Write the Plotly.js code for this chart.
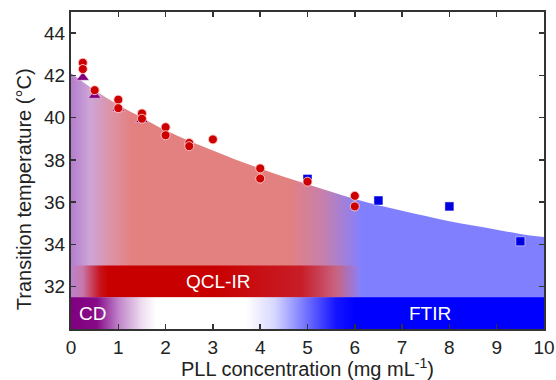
<!DOCTYPE html>
<html>
<head>
<meta charset="utf-8">
<script src="https://cdn.plot.ly/plotly-3.0.1.min.js"></script>
<style>html,body{margin:0;padding:0;background:#fff;}#chart{width:556px;height:380px;}</style>
</head>
<body>
<div id="chart"></div>
<script>
// Fitted curve (edge of shaded area)
const curveX = [0, 0.5, 1, 1.5, 2, 2.5, 3, 3.5, 4, 4.5, 5, 5.5, 6, 6.5, 7, 7.5, 8, 8.5, 9, 9.5, 10];
const curveY = [42.1, 41.3, 40.6, 40.0, 39.4, 38.9, 38.45, 38.0, 37.6, 37.2, 36.85, 36.5, 36.15, 35.85, 35.6, 35.35, 35.1, 34.9, 34.7, 34.5, 34.35];

// QCL-IR (red circles)
const qclX = [0.25, 0.25, 0.5, 1, 1, 1.5, 1.5, 2, 2, 2.5, 2.5, 3, 4, 4, 5, 6, 6];
const qclY = [42.6, 42.3, 41.3, 40.85, 40.45, 40.2, 39.95, 39.55, 39.17, 38.8, 38.65, 38.97, 37.6, 37.12, 36.97, 36.3, 35.8];

// CD (purple triangles)
const cdX = [0.25, 0.5, 1, 1.5];
const cdY = [41.9, 41.05, 40.45, 39.9];

// FTIR (blue squares)
const ftirX = [5, 6.5, 8, 9.5];
const ftirY = [37.1, 36.08, 35.8, 34.15];

// Technique ranges (bands)
const qclRangeX = [0, 6.1];
const qclRangeY = [31.5, 33];
const bottomRangeX = [0, 10];
const bottomRangeY = [30, 31.5];

const xTicks = [0, 1, 2, 3, 4, 5, 6, 7, 8, 9, 10];
const yTicks = [32, 34, 36, 38, 40, 42, 44];

const traces = [
  {
    x: curveX, y: curveY, type: 'scatter', mode: 'none', fill: 'tozeroy',
    line: {width: 0, shape: 'spline'},
    fillgradient: {
      type: 'horizontal', start: 0, stop: 10,
      colorscale: [
        [0, 'rgb(180,125,205)'],
        [0.04, 'rgb(205,165,215)'],
        [0.09, 'rgb(222,145,160)'],
        [0.13, 'rgb(227,128,128)'],
        [0.46, 'rgb(227,128,128)'],
        [0.53, 'rgb(200,128,170)'],
        [0.61, 'rgb(135,128,250)'],
        [0.615, 'rgb(128,128,255)'],
        [1, 'rgb(128,128,255)']
      ]
    },
    hoverinfo: 'skip', showlegend: false
  },
  {
    x: [qclRangeX[0], qclRangeX[1], qclRangeX[1], qclRangeX[0], qclRangeX[0]],
    y: [qclRangeY[0], qclRangeY[0], qclRangeY[1], qclRangeY[1], qclRangeY[0]],
    type: 'scatter', mode: 'none', fill: 'toself',
    fillgradient: {
      type: 'horizontal', start: 0, stop: 6.1,
      colorscale: [
        [0, 'rgb(185,130,205)'],
        [0.04, 'rgb(200,120,170)'],
        [0.1, 'rgb(200,20,30)'],
        [0.13, 'rgb(200,0,0)'],
        [0.5, 'rgb(200,0,0)'],
        [0.8, 'rgb(200,30,40)'],
        [0.92, 'rgb(200,100,130)'],
        [1, 'rgb(140,128,245)']
      ]
    },
    hoverinfo: 'skip', showlegend: false
  },
  {
    x: [bottomRangeX[0], bottomRangeX[1], bottomRangeX[1], bottomRangeX[0], bottomRangeX[0]],
    y: [bottomRangeY[0], bottomRangeY[0], bottomRangeY[1], bottomRangeY[1], bottomRangeY[0]],
    type: 'scatter', mode: 'none', fill: 'toself',
    fillgradient: {
      type: 'horizontal', start: 0, stop: 10,
      colorscale: [
        [0, 'rgb(128,0,128)'],
        [0.055, 'rgb(135,10,135)'],
        [0.1, 'rgb(190,130,200)'],
        [0.15, 'rgb(238,222,240)'],
        [0.18, 'rgb(255,255,255)'],
        [0.37, 'rgb(255,255,255)'],
        [0.43, 'rgb(215,215,255)'],
        [0.5, 'rgb(110,110,255)'],
        [0.56, 'rgb(20,20,255)'],
        [0.6, 'rgb(0,0,255)'],
        [1, 'rgb(0,0,255)']
      ]
    },
    hoverinfo: 'skip', showlegend: false
  },
  {
    x: ftirX, y: ftirY, type: 'scatter', mode: 'markers',
    marker: {symbol: 'square', size: 9, color: '#0000e0', line: {color: 'rgba(255,255,255,0.6)', width: 0.8}},
    showlegend: false
  },
  {
    x: cdX, y: cdY, type: 'scatter', mode: 'markers',
    marker: {symbol: 'triangle-up', size: 11, color: '#800080', line: {color: 'rgba(255,255,255,0.5)', width: 0.8}},
    showlegend: false
  },
  {
    x: qclX, y: qclY, type: 'scatter', mode: 'markers',
    marker: {symbol: 'circle', size: 9, color: '#cc0000', line: {color: 'rgba(255,205,205,0.9)', width: 1}},
    showlegend: false
  }
];

const fontFam = 'Liberation Sans, Arial, sans-serif';

const layout = {
  width: 556, height: 380,
  margin: {l: 71, r: 12, t: 12, b: 51},
  paper_bgcolor: '#ffffff', plot_bgcolor: '#ffffff',
  font: {family: fontFam, size: 19, color: '#222'},
  showlegend: false,
  xaxis: {
    range: [0, 10], tickvals: xTicks, ticktext: xTicks.map(String),
    ticks: 'inside', ticklen: 5, tickwidth: 1.5, tickcolor: '#333',
    showline: true, linecolor: '#333', linewidth: 2, mirror: 'ticks',
    showgrid: false, zeroline: false,
    tickfont: {size: 19, family: fontFam, color: '#222'},
    title: {text: 'PLL concentration (mg mL<sup>-1</sup>)', font: {size: 20, family: fontFam, color: '#222'}, standoff: 2}
  },
  yaxis: {
    range: [30, 45], tickvals: yTicks, ticktext: yTicks.map(String),
    ticks: 'inside', ticklen: 5, tickwidth: 1.5, tickcolor: '#333',
    showline: true, linecolor: '#333', linewidth: 2, mirror: 'ticks',
    showgrid: false, zeroline: false,
    tickfont: {size: 19, family: fontFam, color: '#222'}
  },
  annotations: [
    {x: -0.1, y: 0.44, xref: 'paper', yref: 'paper', xanchor: 'center', yanchor: 'middle', textangle: -90,
     text: 'Transition temperature (°C)', showarrow: false, font: {size: 20, color: '#222', family: fontFam}},
    {x: 3.1, y: 32.25, xref: 'x', yref: 'y', text: 'QCL-IR', showarrow: false, font: {size: 19, color: '#ffffff', family: fontFam}},
    {x: 0.45, y: 30.75, xref: 'x', yref: 'y', text: 'CD', showarrow: false, font: {size: 19, color: '#ffffff', family: fontFam}},
    {x: 7.6, y: 30.75, xref: 'x', yref: 'y', text: 'FTIR', showarrow: false, font: {size: 19, color: '#ffffff', family: fontFam}}
  ]
};

Plotly.newPlot('chart', traces, layout, {displayModeBar: false, staticPlot: true});
</script>
</body>
</html>
